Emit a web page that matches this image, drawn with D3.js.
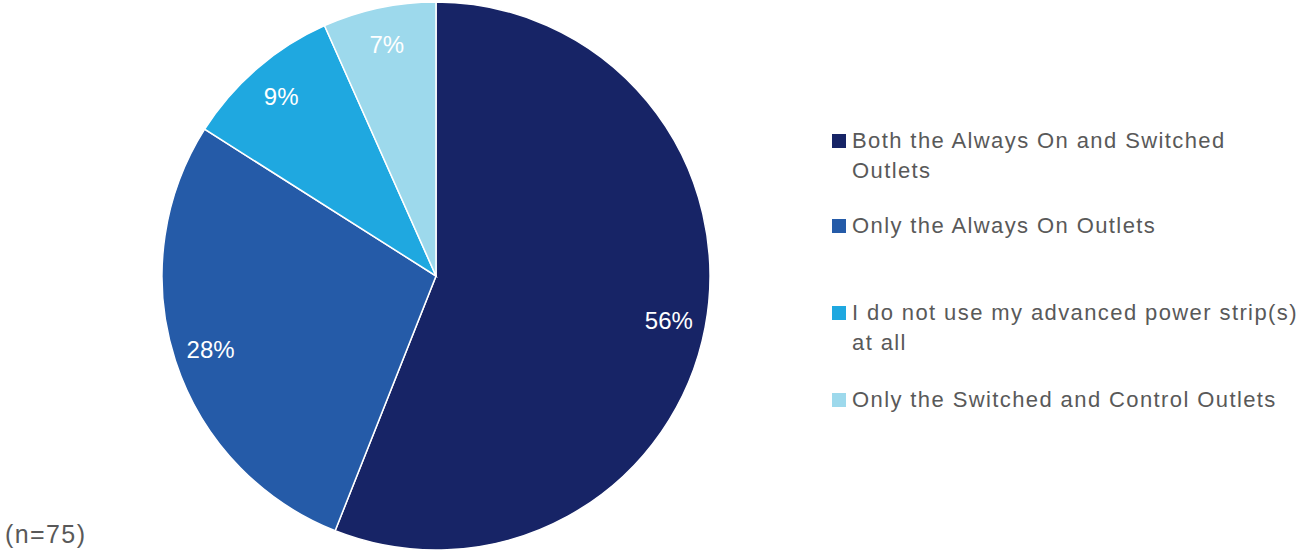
<!DOCTYPE html>
<html><head><meta charset="utf-8">
<script src="https://cdn.jsdelivr.net/npm/d3@7"></script>
<style>body{margin:0;background:#fff}svg{display:block}text{font-family:"Liberation Sans",Arial,sans-serif}</style>
</head><body>
<svg id="c" width="1301" height="550"></svg>
<script>
const categories = ["Both the Always On and Switched Outlets","Only the Always On Outlets","I do not use my advanced power strip(s) at all","Only the Switched and Control Outlets"];
const legendLines = [["Both the Always On and Switched","Outlets"],["Only the Always On Outlets"],["I do not use my advanced power strip(s)","at all"],["Only the Switched and Control Outlets"]];
const counts = [42, 21, 7, 5];
const colors = ["#172466","#255BA8","#1FA8E0","#9DD9EC"];
const note = "(n=75)";

const svg = d3.select("#c");
const cx = 436, cy = 276, R = 274;
const total = d3.sum(counts);
const pie = d3.pie().sort(null).value(d => d)(counts);
const arc = d3.arc().innerRadius(0).outerRadius(R);
const lab = d3.arc().innerRadius(237).outerRadius(237);
const g = svg.append("g").attr("transform", `translate(${cx},${cy})`);
g.selectAll("path").data(pie).join("path").attr("d", arc)
  .attr("fill", (d,i) => colors[i]).attr("stroke", "#fff").attr("stroke-width", 1.5);
g.selectAll("text").data(pie).join("text")
  .attr("transform", d => { const [x,y] = lab.centroid(d); return `translate(${x},${y})`; })
  .attr("text-anchor","middle").attr("dy","0.35em")
  .attr("fill","#fff").attr("font-size",24)
  .text(d => Math.round(d.value/total*100) + "%");

const ys = [148, 233, 320, 407];
const lg = svg.append("g");
legendLines.forEach((lines, i) => {
  lg.append("rect").attr("x", 832).attr("y", ys[i]-14).attr("width", 14).attr("height", 14).attr("fill", colors[i]);
  lines.forEach((t, j) => {
    lg.append("text").attr("x", 852).attr("y", ys[i] + j*30).attr("font-size", 22)
      .attr("letter-spacing", 1.4).attr("fill", "#595959").text(t);
  });
});
svg.append("text").attr("x", 5).attr("y", 543).attr("font-size", 25).attr("letter-spacing", 1.4)
  .attr("fill", "#595959").text(note);
</script>
</body></html>
